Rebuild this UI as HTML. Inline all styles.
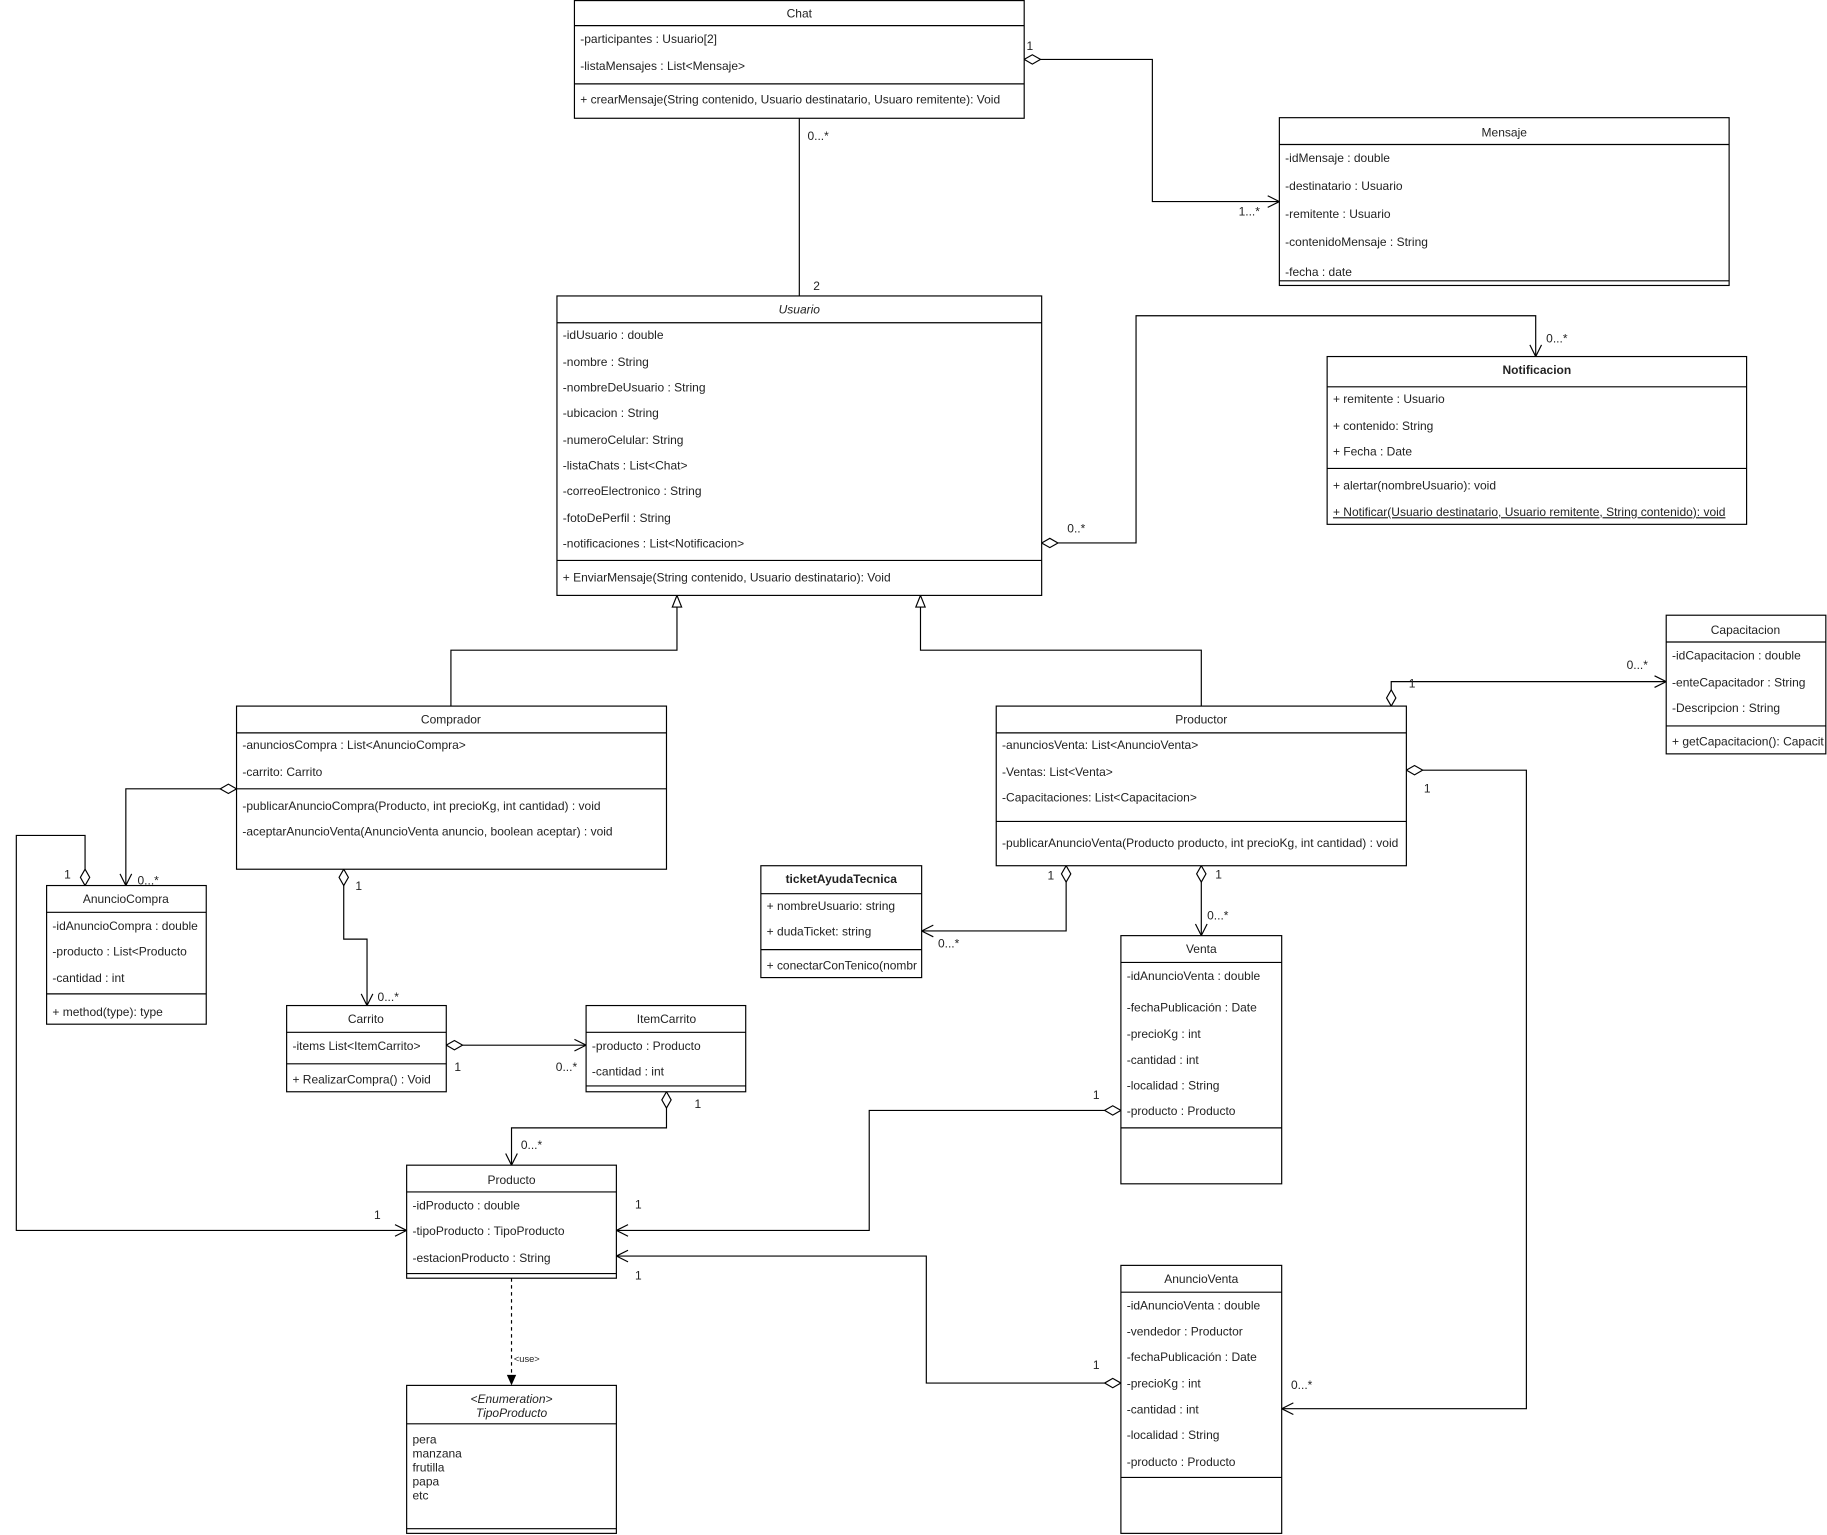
<!DOCTYPE html>
<html><head><meta charset="utf-8"><style>
html,body{margin:0;padding:0;background:#fff;}
svg{display:block}
text{font-family:"Liberation Sans",sans-serif;font-size:10.3px;fill:#222}
.c{text-anchor:middle}
.b{fill:#fff;stroke:#000;stroke-width:1}
.l{stroke:#000;stroke-width:1;fill:none}
.d{fill:#fff;stroke:#000;stroke-width:1}
</style></head><body>
<svg width="1827" height="1535" viewBox="0 0 1568 1317.4" xmlns="http://www.w3.org/2000/svg">
<g class="l">
<polyline points="893,51 989,51 989,173 1098,173"/>
<polyline points="1088,168 1098,173 1088,178"/>
<line x1="686" y1="101" x2="686" y2="254"/>
<polyline points="908,466 975,466 975,271 1318,271 1318,306"/>
<polyline points="1313,296 1318,306 1323,296"/>
<polyline points="387,606 387,558 581,558 581,521"/>
<polyline points="1031,606 1031,558 790,558 790,521"/>
<polyline points="1194,592 1194,585 1430,585"/>
<polyline points="1420,580 1430,585 1420,590"/>
<polyline points="1221,661 1310,661 1310,1209 1100,1209"/>
<polyline points="1110,1204 1100,1209 1110,1214"/>
<polyline points="915,757 915,799 791,799"/>
<polyline points="801,794 791,799 801,804"/>
<line x1="1031" y1="757" x2="1031" y2="803"/>
<polyline points="1026,793 1031,803 1036,793"/>
<polyline points="189,677 108,677 108,760"/>
<polyline points="103,750 108,760 113,750"/>
<polyline points="73,746 73,717 14,717 14,1056 349,1056"/>
<polyline points="339,1051 349,1056 339,1061"/>
<polyline points="295,760 295,806 315,806 315,863"/>
<polyline points="310,853 315,863 320,853"/>
<line x1="397" y1="897" x2="503" y2="897"/>
<polyline points="493,892 503,897 493,902"/>
<polyline points="572,951 572,968 439,968 439,1000"/>
<polyline points="434,990 439,1000 444,990"/>
<polyline points="948,953 746,953 746,1056 529,1056"/>
<polyline points="539,1051 529,1056 539,1061"/>
<polyline points="948,1187 795,1187 795,1078 529,1078"/>
<polyline points="539,1073 529,1078 539,1083"/>
<line x1="439" y1="1097" x2="439" y2="1181" stroke-dasharray="3,3"/>
</g>
<polygon points="439,1189 435,1180 443,1180" fill="#000"/>
<polygon points="581,511 577,521 585,521" class="d"/>
<polygon points="790,511 786,521 794,521" class="d"/>
<polygon points="879,51 886,47 893,51 886,55" class="d"/>
<polygon points="894,466 901,462 908,466 901,470" class="d"/>
<polygon points="1194,606 1190,599 1194,592 1198,599" class="d"/>
<polygon points="1207,661 1214,657 1221,661 1214,665" class="d"/>
<polygon points="915,743 911,750 915,757 919,750" class="d"/>
<polygon points="1031,743 1027,750 1031,757 1035,750" class="d"/>
<polygon points="203,677 196,673 189,677 196,681" class="d"/>
<polygon points="73,760 69,753 73,746 77,753" class="d"/>
<polygon points="295,746 291,753 295,760 299,753" class="d"/>
<polygon points="383,897 390,893 397,897 390,901" class="d"/>
<polygon points="572,937 568,944 572,951 576,944" class="d"/>
<polygon points="962,953 955,949 948,953 955,957" class="d"/>
<polygon points="962,1187 955,1183 948,1187 955,1191" class="d"/>
<g style="font-size:9.5px">
<text x="881" y="43">1</text><text x="1063" y="185">1...*</text>
<text x="693" y="120">0...*</text><text x="698" y="249">2</text>
<text x="916" y="457">0..*</text><text x="1327" y="294">0...*</text>
<text x="1209" y="590">1</text><text x="1396" y="574">0...*</text>
<text x="1222" y="680">1</text><text x="1108" y="1192">0...*</text>
<text x="899" y="755">1</text><text x="805" y="813">0...*</text>
<text x="1043" y="754">1</text><text x="1036" y="789">0...*</text>
<text x="204" y="675">1</text><text x="202" y="687">1</text><text x="118" y="759">0...*</text>
<text x="55" y="754">1</text><text x="321" y="1046">1</text>
<text x="305" y="764">1</text><text x="324" y="859">0...*</text>
<text x="390" y="919">1</text><text x="477" y="919">0...*</text>
<text x="596" y="951">1</text><text x="447" y="986">0...*</text>
<text x="938" y="943">1</text><text x="545" y="1037">1</text>
<text x="938" y="1175">1</text><text x="545" y="1098">1</text>
<text x="441" y="1169" style="font-size:8px">&lt;use&gt;</text>
</g>
<rect class="b" x="493" y="0.5" width="386" height="101"/>
<line class="l" x1="493" y1="22" x2="879" y2="22"/><line class="l" x1="493" y1="72" x2="879" y2="72"/>
<text class="c" x="686" y="15">Chat</text>
<text x="498" y="37">-participantes : Usuario[2]</text>
<text x="498" y="60">-listaMensajes : List&lt;Mensaje&gt;</text>
<text x="498" y="89">+ crearMensaje(String contenido, Usuario destinatario, Usuaro remitente): Void</text>
<rect class="b" x="1098" y="101" width="386" height="144"/>
<line class="l" x1="1098" y1="124" x2="1484" y2="124"/><line class="l" x1="1098" y1="241" x2="1484" y2="241"/>
<text class="c" x="1291" y="117">Mensaje</text>
<text x="1103" y="139">-idMensaje : double</text>
<text x="1103" y="163">-destinatario : Usuario</text>
<text x="1103" y="187">-remitente : Usuario</text>
<text x="1103" y="211">-contenidoMensaje : String</text>
<text x="1103" y="237">-fecha : date</text>
<rect class="b" x="478" y="254" width="416" height="257"/>
<line class="l" x1="478" y1="277" x2="894" y2="277"/><line class="l" x1="478" y1="481" x2="894" y2="481"/>
<text class="c" x="686" y="269" font-style="italic">Usuario</text>
<text x="483" y="291">-idUsuario : double</text>
<text x="483" y="314">-nombre : String</text>
<text x="483" y="336">-nombreDeUsuario : String</text>
<text x="483" y="358">-ubicacion : String</text>
<text x="483" y="381">-numeroCelular: String</text>
<text x="483" y="403">-listaChats : List&lt;Chat&gt;</text>
<text x="483" y="425">-correoElectronico : String</text>
<text x="483" y="448">-fotoDePerfil : String</text>
<text x="483" y="470">-notificaciones : List&lt;Notificacion&gt;</text>
<text x="483" y="499">+ EnviarMensaje(String contenido, Usuario destinatario): Void</text>
<rect class="b" x="1139" y="306" width="360" height="144"/>
<line class="l" x1="1139" y1="332" x2="1499" y2="332"/><line class="l" x1="1139" y1="402" x2="1499" y2="402"/>
<text class="c" x="1319" y="321" font-weight="bold">Notificacion</text>
<text x="1144" y="346">+ remitente : Usuario</text>
<text x="1144" y="369">+ contenido: String</text>
<text x="1144" y="391">+ Fecha : Date</text>
<text x="1144" y="420">+ alertar(nombreUsuario): void</text>
<text x="1144" y="443" text-decoration="underline">+ Notificar(Usuario destinatario, Usuario remitente, String contenido): void</text>
<rect class="b" x="1430" y="528" width="137" height="119"/>
<line class="l" x1="1430" y1="551" x2="1567" y2="551"/><line class="l" x1="1430" y1="623" x2="1567" y2="623"/>
<text class="c" x="1498" y="544">Capacitacion</text>
<text x="1435" y="566">-idCapacitacion : double</text>
<text x="1435" y="589">-enteCapacitador : String</text>
<text x="1435" y="611">-Descripcion : String</text>
<text x="1435" y="640">+ getCapacitacion(): Capacit</text>
<rect class="b" x="203" y="606" width="369" height="140"/>
<line class="l" x1="203" y1="629" x2="572" y2="629"/><line class="l" x1="203" y1="677" x2="572" y2="677"/>
<text class="c" x="387" y="621">Comprador</text>
<text x="208" y="643">-anunciosCompra : List&lt;AnuncioCompra&gt;</text>
<text x="208" y="666">-carrito: Carrito</text>
<text x="208" y="695">-publicarAnuncioCompra(Producto, int precioKg, int cantidad) : void</text>
<text x="208" y="717">-aceptarAnuncioVenta(AnuncioVenta anuncio, boolean aceptar) : void</text>
<rect class="b" x="855" y="606" width="352" height="137"/>
<line class="l" x1="855" y1="629" x2="1207" y2="629"/><line class="l" x1="855" y1="705" x2="1207" y2="705"/>
<text class="c" x="1031" y="621">Productor</text>
<text x="860" y="643">-anunciosVenta: List&lt;AnuncioVenta&gt;</text>
<text x="860" y="666">-Ventas: List&lt;Venta&gt;</text>
<text x="860" y="688">-Capacitaciones: List&lt;Capacitacion&gt;</text>
<text x="860" y="727">-publicarAnuncioVenta(Producto producto, int precioKg, int cantidad) : void</text>
<rect class="b" x="40" y="760" width="137" height="119"/>
<line class="l" x1="40" y1="783" x2="177" y2="783"/><line class="l" x1="40" y1="853" x2="177" y2="853"/>
<text class="c" x="108" y="775">AnuncioCompra</text>
<text x="45" y="798">-idAnuncioCompra : double</text>
<text x="45" y="820">-producto : List&lt;Producto</text>
<text x="45" y="843">-cantidad : int</text>
<text x="45" y="872">+ method(type): type</text>
<rect class="b" x="653" y="743" width="138" height="96"/>
<line class="l" x1="653" y1="767" x2="791" y2="767"/><line class="l" x1="653" y1="815" x2="791" y2="815"/>
<text class="c" x="722" y="758" font-weight="bold">ticketAyudaTecnica</text>
<text x="658" y="781">+ nombreUsuario: string</text>
<text x="658" y="803">+ dudaTicket: string</text>
<text x="658" y="832" textLength="129" lengthAdjust="spacingAndGlyphs">+ conectarConTenico(nombr</text>
<rect class="b" x="962" y="803" width="138" height="213"/>
<line class="l" x1="962" y1="826" x2="1100" y2="826"/><line class="l" x1="962" y1="968" x2="1100" y2="968"/>
<text class="c" x="1031" y="818">Venta</text>
<text x="967" y="841">-idAnuncioVenta : double</text>
<text x="967" y="868">-fechaPublicación : Date</text>
<text x="967" y="891">-precioKg : int</text>
<text x="967" y="913">-cantidad : int</text>
<text x="967" y="935">-localidad : String</text>
<text x="967" y="957">-producto : Producto</text>
<rect class="b" x="246" y="863" width="137" height="74"/>
<line class="l" x1="246" y1="886" x2="383" y2="886"/><line class="l" x1="246" y1="913" x2="383" y2="913"/>
<text class="c" x="314" y="878">Carrito</text>
<text x="251" y="901">-items List&lt;ItemCarrito&gt;</text>
<text x="251" y="930">+ RealizarCompra() : Void</text>
<rect class="b" x="503" y="863" width="137" height="74"/>
<line class="l" x1="503" y1="886" x2="640" y2="886"/><line class="l" x1="503" y1="932" x2="640" y2="932"/>
<text class="c" x="572" y="878">ItemCarrito</text>
<text x="508" y="901">-producto : Producto</text>
<text x="508" y="923">-cantidad : int</text>
<rect class="b" x="349" y="1000" width="180" height="97"/>
<line class="l" x1="349" y1="1023" x2="529" y2="1023"/><line class="l" x1="349" y1="1093" x2="529" y2="1093"/>
<text class="c" x="439" y="1016">Producto</text>
<text x="354" y="1038">-idProducto : double</text>
<text x="354" y="1060">-tipoProducto : TipoProducto</text>
<text x="354" y="1083">-estacionProducto : String</text>
<rect class="b" x="349" y="1189" width="180" height="127"/>
<line class="l" x1="349" y1="1222" x2="529" y2="1222"/><line class="l" x1="349" y1="1312" x2="529" y2="1312"/>
<text class="c" x="439" y="1204" font-style="italic">&lt;Enumeration&gt;</text>
<text class="c" x="439" y="1216" font-style="italic">TipoProducto</text>
<text x="354" y="1239">pera</text>
<text x="354" y="1251">manzana</text>
<text x="354" y="1263">frutilla</text>
<text x="354" y="1275">papa</text>
<text x="354" y="1287">etc</text>
<rect class="b" x="962" y="1086" width="138" height="230"/>
<line class="l" x1="962" y1="1109" x2="1100" y2="1109"/><line class="l" x1="962" y1="1268" x2="1100" y2="1268"/>
<text class="c" x="1031" y="1101">AnuncioVenta</text>
<text x="967" y="1124">-idAnuncioVenta : double</text>
<text x="967" y="1146">-vendedor : Productor</text>
<text x="967" y="1168">-fechaPublicación : Date</text>
<text x="967" y="1191">-precioKg : int</text>
<text x="967" y="1213">-cantidad : int</text>
<text x="967" y="1235">-localidad : String</text>
<text x="967" y="1258">-producto : Producto</text>
</svg>
</body></html>
